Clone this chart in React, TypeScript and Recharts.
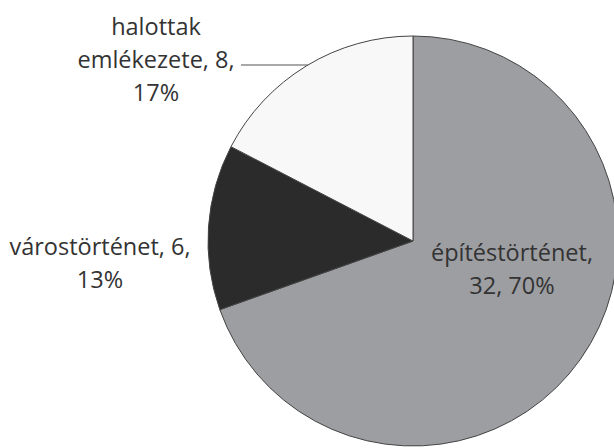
import { PieChart, Pie, Cell } from 'recharts';

const categories = ['építéstörténet', 'várostörténet', 'halottak emlékezete'];
const counts = [32, 6, 8];
const percents = ['70%', '13%', '17%'];
const colors = ['#9d9ea2', '#2b2b2b', '#f8f8f8'];

const data = categories.map((name, i) => ({ name, value: counts[i], pct: percents[i] }));

// label lines per slice, split like the original
const labelLines = [
  [`${categories[0]},`, `${counts[0]}, ${percents[0]}`],
  [`${categories[1]}, ${counts[1]},`, percents[1]],
  ['halottak', `emlékezete, ${counts[2]},`, percents[2]],
];
// offset of each label block's center from the pie center
const labelOffsets = [
  { dx: 99, dy: 12 },
  { dx: -313, dy: 6 },
  { dx: -257, dy: -214 },
];

const renderLabel = (props: any) => {
  const { cx, cy, index, outerRadius } = props;
  const off = labelOffsets[index];
  const lines = labelLines[index];
  const x = cx + off.dx;
  const y0 = cy + off.dy;
  let leader = null;
  if (index === 2) {
    const ly = y0 + 33 + 5;
    const lx2 = cx - Math.sqrt(outerRadius * outerRadius - (ly - cy) * (ly - cy));
    leader = <line x1={x + 85} y1={ly} x2={lx2} y2={ly} stroke="#555" strokeWidth={1.2} />;
  }
  return (
    <g key={`lbl-${index}`}>
      {leader}
      <text x={x} y={y0} textAnchor="middle" fill="#333" fontSize={23.5} fontFamily="'Open Sans', Lato, sans-serif">
        {lines.map((t, i) => (
          <tspan key={i} x={x} dy={i === 0 ? 8 : 33}>{t}</tspan>
        ))}
      </text>
    </g>
  );
};

export default function App() {
  return (
    <div style={{ position: 'absolute', left: 0, top: 0, width: 614, height: 448, background: '#fff' }}>
      <PieChart width={614} height={448} margin={{ top: 0, right: 0, bottom: 0, left: 0 }}>
        <Pie
          data={data}
          dataKey="value"
          nameKey="name"
          cx={413}
          cy={241}
          outerRadius={205}
          startAngle={90}
          endAngle={-270}
          stroke="#444"
          strokeWidth={1}
          label={renderLabel}
          labelLine={false}
          isAnimationActive={false}
        >
          {data.map((entry, index) => (
            <Cell key={`cell-${index}`} fill={colors[index]} />
          ))}
        </Pie>
      </PieChart>
    </div>
  );
}
